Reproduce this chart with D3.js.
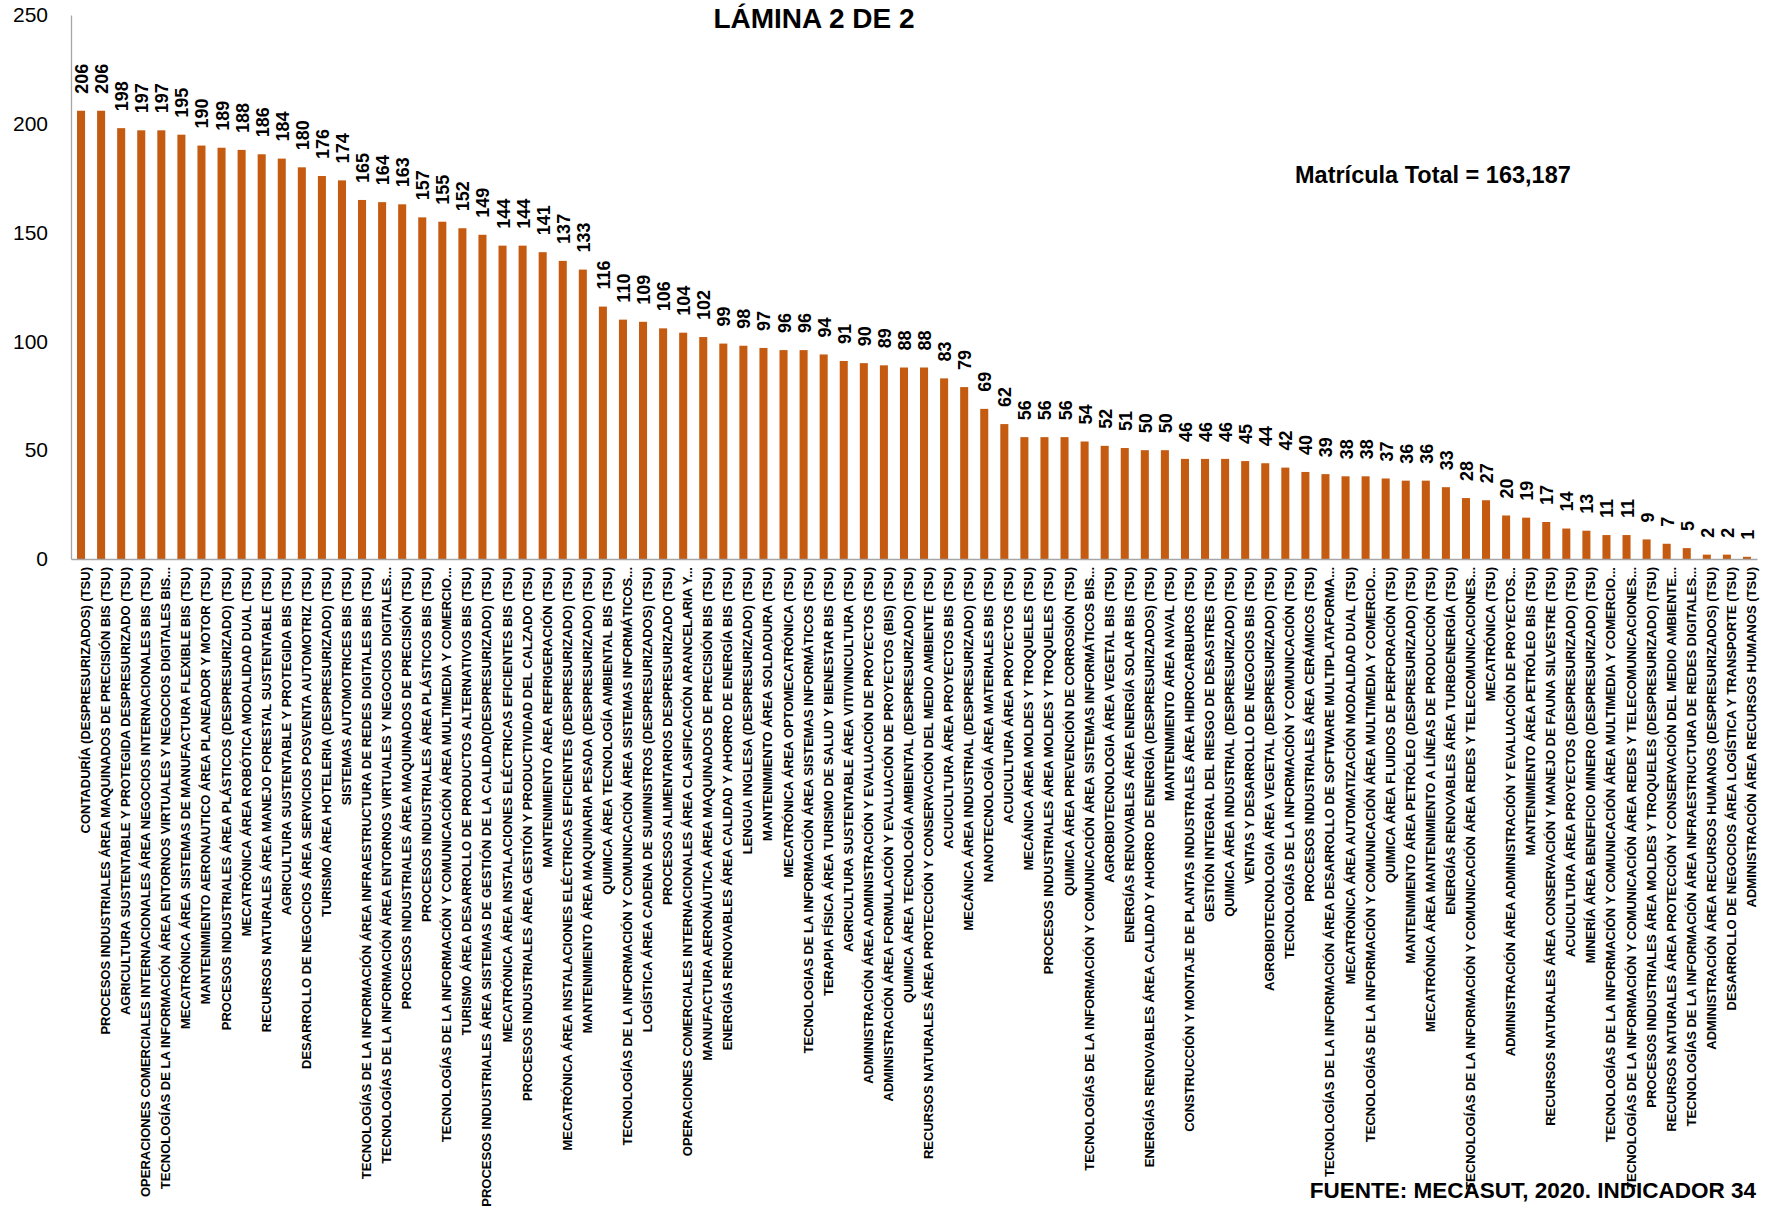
<!DOCTYPE html>
<html>
<head>
<meta charset="utf-8">
<script src="https://cdn.jsdelivr.net/npm/d3@7"></script>
<style>
  body { margin: 0; background: #fff; }
  svg text { font-family: "Liberation Sans", Arial, sans-serif; fill: #000; }
</style>
</head>
<body>
<script>
/* ------------------------------- Chart data ------------------------------- */
const categories = [
  "CONTADURÍA (DESPRESURIZADOS) (TSU)",
  "PROCESOS INDUSTRIALES ÁREA MAQUINADOS DE  PRECISIÓN BIS (TSU)",
  "AGRICULTURA SUSTENTABLE Y PROTEGIDA DESPRESURIZADO (TSU)",
  "OPERACIONES COMERCIALES INTERNACIONALES ÁREA NEGOCIOS INTERNACIONALES BIS (TSU)",
  "TECNOLOGÍAS DE LA INFORMACIÓN ÁREA ENTORNOS VIRTUALES Y NEGOCIOS DIGITALES BIS...",
  "MECATRÓNICA ÁREA SISTEMAS DE MANUFACTURA FLEXIBLE BIS (TSU)",
  "MANTENIMIENTO AERONAUTICO  ÁREA PLANEADOR Y MOTOR (TSU)",
  "PROCESOS INDUSTRIALES ÁREA PLÁSTICOS (DESPRESURIZADO) (TSU)",
  "MECATRÓNICA ÁREA ROBÓTICA MODALIDAD DUAL (TSU)",
  "RECURSOS NATURALES ÁREA MANEJO FORESTAL SUSTENTABLE (TSU)",
  "AGRICULTURA SUSTENTABLE Y PROTEGIDA BIS (TSU)",
  "DESARROLLO DE NEGOCIOS ÁREA SERVICIOS POSVENTA AUTOMOTRIZ (TSU)",
  "TURISMO ÁREA HOTELERIA (DESPRESURIZADO) (TSU)",
  "SISTEMAS AUTOMOTRICES BIS (TSU)",
  "TECNOLOGÍAS DE LA INFORMACIÓN ÁREA INFRAESTRUCTURA DE REDES DIGITALES BIS (TSU)",
  "TECNOLOGÍAS DE LA INFORMACIÓN ÁREA ENTORNOS VIRTUALES Y NEGOCIOS DIGITALES...",
  "PROCESOS INDUSTRIALES ÁREA MAQUINADOS DE PRECISIÓN (TSU)",
  "PROCESOS INDUSTRIALES ÁREA PLÁSTICOS BIS (TSU)",
  "TECNOLOGÍAS DE LA INFORMACIÓN Y COMUNICACIÓN ÁREA MULTIMEDIA Y COMERCIO...",
  "TURISMO ÁREA DESARROLLO DE PRODUCTOS ALTERNATIVOS BIS (TSU)",
  "PROCESOS INDUSTRIALES ÁREA SISTEMAS DE GESTIÓN DE LA CALIDAD(DESPRESURIZADO) (TSU)",
  "MECATRÓNICA ÁREA INSTALACIONES ELÉCTRICAS EFICIENTES BIS (TSU)",
  "PROCESOS INDUSTRIALES ÁREA GESTIÓN Y PRODUCTIVIDAD DEL CALZADO (TSU)",
  "MANTENIMIENTO ÁREA REFRIGERACIÓN (TSU)",
  "MECATRÓNICA ÁREA INSTALACIONES ELÉCTRICAS EFICIENTES (DESPRESURIZADO) (TSU)",
  "MANTENIMIENTO ÁREA MAQUINARIA PESADA (DESPRESURIZADO) (TSU)",
  "QUIMICA ÁREA  TECNOLOGÍA AMBIENTAL BIS (TSU)",
  "TECNOLOGÍAS DE LA INFORMACIÓN Y COMUNICACIÓN ÁREA SISTEMAS INFORMÁTICOS...",
  "LOGÍSTICA ÁREA CADENA DE SUMINISTROS (DESPRESURIZADOS) (TSU)",
  "PROCESOS ALIMENTARIOS DESPRESURIZADO (TSU)",
  "OPERACIONES COMERCIALES INTERNACIONALES ÁREA CLASIFICACIÓN ARANCELARIA Y...",
  "MANUFACTURA AERONÁUTICA ÁREA MAQUINADOS DE PRECISIÓN BIS (TSU)",
  "ENERGÍAS RENOVABLES ÁREA CALIDAD Y AHORRO DE ENERGÍA BIS (TSU)",
  "LENGUA INGLESA (DESPRESURIZADO) (TSU)",
  "MANTENIMIENTO ÁREA SOLDADURA (TSU)",
  "MECATRÓNICA ÁREA OPTOMECATRÓNICA (TSU)",
  "TECNOLOGIAS DE LA INFORMACIÓN ÁREA SISTEMAS INFORMÁTICOS  (TSU)",
  "TERAPIA FÍSICA ÁREA TURISMO DE SALUD Y BIENESTAR BIS (TSU)",
  "AGRICULTURA SUSTENTABLE ÁREA VITIVINICULTURA (TSU)",
  "ADMINISTRACIÓN ÁREA ADMINISTRACIÓN Y EVALUACIÓN DE PROYECTOS (TSU)",
  "ADMINISTRACIÓN ÁREA FORMULACIÓN Y EVALUACIÓN DE PROYECTOS (BIS) (TSU)",
  "QUIMICA ÁREA TECNOLOGÍA AMBIENTAL (DESPRESURIZADO) (TSU)",
  "RECURSOS NATURALES  ÁREA PROTECCIÓN Y CONSERVACIÓN DEL MEDIO AMBIENTE (TSU)",
  "ACUICULTURA ÁREA PROYECTOS BIS (TSU)",
  "MECÁNICA ÁREA INDUSTRIAL (DESPRESURIZADO) (TSU)",
  "NANOTECNOLOGÍA ÁREA MATERIALES BIS (TSU)",
  "ACUICULTURA ÁREA PROYECTOS (TSU)",
  "MECÁNICA ÁREA MOLDES Y TROQUELES (TSU)",
  "PROCESOS INDUSTRIALES ÁREA MOLDES Y TROQUELES (TSU)",
  "QUIMICA ÁREA PREVENCIÓN DE CORROSIÓN (TSU)",
  "TECNOLOGÍAS DE LA INFORMACIÓN Y COMUNICACIÓN ÁREA SISTEMAS INFORMÁTICOS BIS...",
  "AGROBIOTECNOLOGIA ÁREA VEGETAL BIS (TSU)",
  "ENERGÍAS RENOVABLES ÁREA ENERGÍA SOLAR BIS (TSU)",
  "ENERGÍAS RENOVABLES ÁREA CALIDAD Y AHORRO DE ENERGÍA (DESPRESURIZADOS) (TSU)",
  "MANTENIMIENTO ÁREA NAVAL (TSU)",
  "CONSTRUCCIÓN Y MONTAJE DE PLANTAS INDUSTRALES ÁREA HIDROCARBUROS (TSU)",
  "GESTIÓN INTEGRAL DEL RIESGO DE DESASTRES (TSU)",
  "QUIMICA ÁREA INDUSTRIAL (DESPRESURIZADO) (TSU)",
  "VENTAS Y DESARROLLO DE NEGOCIOS BIS (TSU)",
  "AGROBIOTECNOLOGIA ÁREA VEGETAL (DESPRESURIZADO) (TSU)",
  "TECNOLOGÍAS DE LA INFORMACIÓN Y COMUNICACIÓN (TSU)",
  "PROCESOS INDUSTRIALES ÁREA CERÁMICOS (TSU)",
  "TECNOLOGÍAS DE LA INFORMACIÓN ÁREA DESARROLLO DE SOFTWARE MULTIPLATAFORMA...",
  "MECATRÓNICA ÁREA AUTOMATIZACIÓN MODALIDAD DUAL (TSU)",
  "TECNOLOGÍAS DE LA INFORMACIÓN Y COMUNICACIÓN ÁREA MULTIMEDIA Y COMERCIO...",
  "QUIMICA ÁREA FLUIDOS DE PERFORACIÓN (TSU)",
  "MANTENIMIENTO ÁREA PETRÓLEO (DESPRESURIZADO) (TSU)",
  "MECATRÓNICA ÁREA MANTENIMIENTO A LÍNEAS DE PRODUCCIÓN (TSU)",
  "ENERGÍAS RENOVABLES ÁREA TURBOENERGÍA (TSU)",
  "TECNOLOGÍAS DE LA INFORMACIÓN Y COMUNICACIÓN ÁREA REDES Y TELECOMUNICACIONES...",
  "MECATRÓNICA (TSU)",
  "ADMINISTRACIÓN ÁREA ADMINISTRACIÓN Y EVALUACIÓN DE PROYECTOS...",
  "MANTENIMIENTO ÁREA PETRÓLEO BIS (TSU)",
  "RECURSOS NATURALES ÁREA CONSERVACIÓN Y MANEJO DE FAUNA SILVESTRE (TSU)",
  "ACUICULTURA ÁREA PROYECTOS (DESPRESURIZADO) (TSU)",
  "MINERÍA ÁREA BENEFICIO MINERO (DESPRESURIZADO) (TSU)",
  "TECNOLOGÍAS DE LA INFORMACIÓN Y COMUNICACIÓN ÁREA MULTIMEDIA Y COMERCIO...",
  "TECNOLOGÍAS DE LA INFORMACIÓN Y COMUNICACIÓN ÁREA REDES Y TELECOMUNICACIONES...",
  "PROCESOS INDUSTRIALES ÁREA MOLDES Y TROQUELES (DESPRESURIZADO) (TSU)",
  "RECURSOS NATURALES ÁREA PROTECCIÓN Y CONSERVACIÓN DEL MEDIO AMBIENTE...",
  "TECNOLOGÍAS DE LA INFORMACIÓN ÁREA INFRAESTRUCTURA DE REDES DIGITALES...",
  "ADMINISTRACIÓN ÁREA RECURSOS HUMANOS (DESPRESURIZADOS) (TSU)",
  "DESARROLLO DE NEGOCIOS ÁREA LOGÍSTICA Y TRANSPORTE (TSU)",
  "ADMINISTRACIÓN ÁREA RECURSOS HUMANOS (TSU)"
];

const values = [
  206, 206, 198, 197, 197, 195, 190, 189, 188, 186, 184, 180, 176, 174, 165, 164,
  163, 157, 155, 152, 149, 144, 144, 141, 137, 133, 116, 110, 109, 106, 104, 102,
  99, 98, 97, 96, 96, 94, 91, 90, 89, 88, 88, 83, 79, 69, 62, 56, 56, 56, 54, 52,
  51, 50, 50, 46, 46, 46, 45, 44, 42, 40, 39, 38, 38, 37, 36, 36, 33, 28, 27, 20,
  19, 17, 14, 13, 11, 11, 9, 7, 5, 2, 2, 1
];

const yTicks = [0, 50, 100, 150, 200, 250];
const title = "LÁMINA 2 DE 2";
const totalNote = "Matrícula Total = 163,187";
const sourceNote = "FUENTE: MECASUT, 2020. INDICADOR 34";

/* --------------------------------- Layout --------------------------------- */
const width = 1765;
const height = 1211;
const plot = { left: 71, right: 1757, top: 15, bottom: 559 };
const barColor = "#C55A11";
const axisColor = "#A6A6A6";

const svg = d3.select("body").append("svg")
  .attr("width", width)
  .attr("height", height);

const data = categories.map((c, i) => ({ name: c, value: values[i], idx: i }));

const x = d3.scaleBand()
  .domain(data.map(d => d.idx))
  .range([plot.left, plot.right])
  .paddingInner(0.6)
  .paddingOuter(0.3);

const y = d3.scaleLinear()
  .domain([0, 250])
  .range([plot.bottom, plot.top]);

/* ---------------------------------- Axes ---------------------------------- */
const yAxis = svg.append("g")
  .attr("transform", `translate(${plot.left},0)`)
  .call(d3.axisLeft(y).tickValues(yTicks).tickSize(0).tickPadding(23));
yAxis.select(".domain").attr("stroke", axisColor).attr("stroke-width", 1.3);
yAxis.selectAll("text")
  .style("font-size", "21px")
  .style("font-family", "'Liberation Sans', Arial, sans-serif");

//Bars
svg.append("g")
  .selectAll("rect")
  .data(data)
  .join("rect")
  .attr("x", d => x(d.idx))
  .attr("y", d => y(d.value))
  .attr("width", x.bandwidth())
  .attr("height", d => y(0) - y(d.value))
  .attr("fill", barColor);

const xAxis = svg.append("g")
  .attr("transform", `translate(0,${plot.bottom})`)
  .call(d3.axisBottom(x).tickSize(0).tickFormat(""));
xAxis.select(".domain").attr("stroke", axisColor).attr("stroke-width", 1.3);

//Category labels, rotated
svg.append("g")
  .selectAll("text")
  .data(data)
  .join("text")
  .attr("transform", d => `translate(${x(d.idx) + x.bandwidth() / 2 + 9},${plot.bottom + 8}) rotate(-90)`)
  .attr("text-anchor", "end")
  .style("font-size", "13px")
  .style("font-weight", "bold")
  .text(d => d.name);

//Value labels on top of the bars
svg.append("g")
  .selectAll("text")
  .data(data)
  .join("text")
  .attr("transform", d => `translate(${x(d.idx) + x.bandwidth() / 2 + 7},${y(d.value) - 17}) rotate(-90)`)
  .attr("text-anchor", "start")
  .style("font-size", "18px")
  .style("font-weight", "bold")
  .text(d => d.value);

/* --------------------------------- Notes ---------------------------------- */
svg.append("text")
  .attr("x", 814)
  .attr("y", 28)
  .attr("text-anchor", "middle")
  .style("font-size", "28px")
  .style("font-weight", "bold")
  .text(title);

svg.append("text")
  .attr("x", 1295)
  .attr("y", 183)
  .style("font-size", "23.5px")
  .style("font-weight", "bold")
  .text(totalNote);

svg.append("text")
  .attr("x", 1756)
  .attr("y", 1198)
  .attr("text-anchor", "end")
  .style("font-size", "22.5px")
  .style("font-weight", "bold")
  .text(sourceNote);
</script>
</body>
</html>
